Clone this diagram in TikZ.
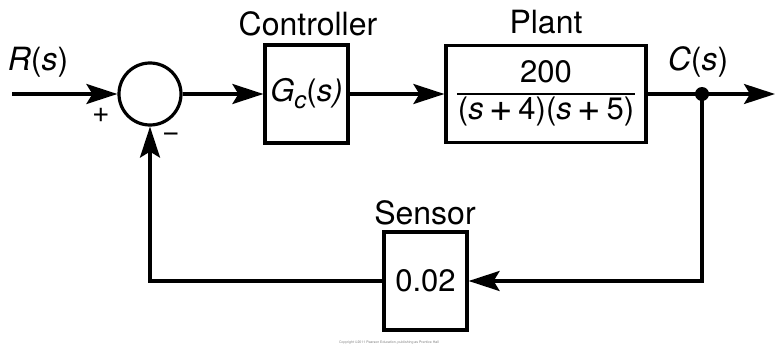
\documentclass[tikz,border=0pt]{standalone}
\usepackage{fontspec}
\usepackage{graphicx}
\setmainfont{TeX Gyre Heros}
\usetikzlibrary{arrows.meta}
\newcommand{\opplus}{\hspace{0.18em}\raisebox{-0.04em}{\scalebox{1.3}{+}}\hspace{0.18em}}
\begin{document}
\begin{tikzpicture}[x=1pt,y=-1pt,line width=3.2pt,
  blk/.style={draw,line width=3.2pt,inner sep=0pt},
  arr/.style={-{Stealth[length=31pt,width=20pt,inset=6pt]}},
  lbl/.style={font=\fontsize{32}{36}\selectfont,inner sep=0pt},
  sgn/.style={font=\fontsize{30}{34}\selectfont,inner sep=0pt}]
\useasboundingbox (0,0) rectangle (777,348);
% blocks
\node[circle,draw,line width=3.2pt,minimum size=62pt,inner sep=0pt] (sum) at (150,94) {};
\node[blk,minimum width=83pt,minimum height=98pt,font=\fontsize{31}{34}\selectfont] (ctrl) at (306.5,94) {{\itshape G\raisebox{-0.22em}{\fontsize{24}{26}\selectfont\itshape c}}(\itshape s)};
\node[blk,minimum width=200pt,minimum height=97pt,font=\fontsize{31}{34}\selectfont] (plant) at (546,94) {\setlength{\arrayrulewidth}{1.7pt}\setlength{\tabcolsep}{1pt}\renewcommand{\arraystretch}{1.05}\begin{tabular}{c}200\\\hline(\textit{s}\opplus4)(\textit{s}\opplus5)\end{tabular}};
\node[blk,minimum width=83pt,minimum height=98pt,font=\fontsize{31}{34}\selectfont] (sens) at (425.5,281) {0.02};
% labels
\node[lbl] (lr) at (38,62) {\textit{R}(\textit{s})};
\node[lbl] (lctrl) at (308,24) {Controller};
\node[lbl] (lplant) at (546,22) {Plant};
\node[lbl] (lc) at (698,62) {\textit{C}(\textit{s})};
\node[lbl] (lsens) at (425,213) {Sensor};
\node[sgn] (plus) at (101,115) {+};
\node[sgn] (minus) at (171,137) {−};
\node[font=\fontsize{3.5}{4}\selectfont,text=gray] (copy) at (389,343) {Copyright ©2011 Pearson Education, publishing as Prentice Hall};
% connectors
\coordinate (in) at (12,94);
\coordinate (out) at (775,94);
\coordinate (dot) at (702,94);
\draw[arr] (in) -- (sum.west);
\draw[arr] (sum.east) -- (ctrl.west);
\draw[arr] (ctrl.east) -- (plant.west);
\draw (plant.east) -- (dot);
\draw[arr] (dot) -- (out);
\draw[arr] (dot) |- (sens.east);
\draw[arr] (sens.west) -| (sum.south);
\fill (dot) circle (7pt);
\end{tikzpicture}
\end{document}
